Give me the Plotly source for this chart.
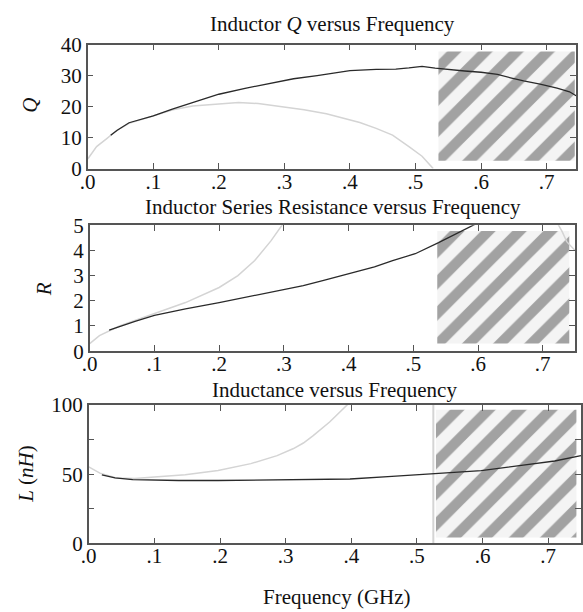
import plotly.graph_objects as go

# ---------------- data ----------------
# Panel 1: Q versus frequency (GHz)
q_meas_f = [0.035, 0.045, 0.063, 0.10, 0.129, 0.16, 0.20, 0.24, 0.28, 0.314, 0.35, 0.40, 0.44, 0.47, 0.49, 0.51, 0.53, 0.55, 0.575, 0.60, 0.625, 0.645, 0.665, 0.69, 0.716, 0.735, 0.745]
q_meas = [10.8, 12.4, 14.8, 17.0, 19.2, 21.3, 24.0, 25.9, 27.6, 29.0, 30.0, 31.6, 32.0, 32.1, 32.5, 33.0, 32.4, 31.9, 31.5, 31.1, 30.4, 29.3, 28.3, 27.3, 26.0, 24.8, 23.5]
q_model_f = [0.0, 0.0135, 0.029, 0.044, 0.063, 0.10, 0.13, 0.16, 0.20, 0.23, 0.26, 0.28, 0.314, 0.33, 0.364, 0.39, 0.415, 0.44, 0.465, 0.49, 0.51, 0.527]
q_model = [3.1, 7.1, 9.7, 12.3, 14.6, 17.0, 19.0, 20.2, 20.9, 21.3, 21.0, 20.4, 19.6, 19.0, 17.7, 16.4, 14.9, 13.0, 10.8, 7.1, 4.0, 0.0]

# Panel 2: series resistance R versus frequency
r_meas_f = [0.03, 0.05, 0.07, 0.10, 0.148, 0.20, 0.25, 0.30, 0.33, 0.36, 0.402, 0.44, 0.468, 0.503, 0.539, 0.57, 0.592, 0.60]
r_meas = [0.84, 1.02, 1.18, 1.42, 1.68, 1.93, 2.18, 2.44, 2.60, 2.80, 3.08, 3.35, 3.60, 3.87, 4.31, 4.72, 5.00, 5.10]
r_model_f = [0.0, 0.015, 0.046, 0.10, 0.148, 0.20, 0.229, 0.255, 0.28, 0.297, 0.305, None, 0.718, 0.73, 0.737, 0.75]
r_model = [0.30, 0.62, 1.00, 1.50, 1.93, 2.53, 3.00, 3.60, 4.38, 5.00, 5.30, None, 5.30, 4.75, 4.35, 4.00]

# Panel 3: inductance L (nH) versus frequency
l_meas_f = [0.02, 0.04, 0.067, 0.10, 0.137, 0.197, 0.252, 0.312, 0.35, 0.398, 0.462, 0.527, 0.598, 0.662, 0.71, 0.75]
l_meas = [49.5, 47.3, 46.1, 45.8, 45.4, 45.4, 45.6, 45.9, 46.2, 46.5, 48.4, 50.2, 52.5, 56.5, 59.5, 63.4]
l_model_f = [0.0, 0.017, 0.042, 0.07, 0.10, 0.147, 0.197, 0.247, 0.287, 0.312, 0.327, 0.342, 0.367, 0.392, 0.398]
l_model = [55.3, 50.7, 47.2, 46.8, 47.9, 49.5, 52.6, 57.6, 63.4, 68.5, 72.5, 77.8, 87.7, 99.3, 102.0]
l_limit_f = 0.525  # vertical marker in the inductance panel

# Hatched (invalid) regions: [f_start, f_end], [y_low, y_high]
hatch1_f, hatch1_y = [0.535, 0.743], [2.5, 37.8]
hatch2_f, hatch2_y = [0.537, 0.741], [0.3, 4.77]
hatch3_f, hatch3_y = [0.529, 0.743], [4.2, 96.5]

x_tickvals = [0.0, 0.1, 0.2, 0.3, 0.4, 0.5, 0.6, 0.7]
x_ticktext = [".0", ".1", ".2", ".3", ".4", ".5", ".6", ".7"]

titles = ["Inductor <i>Q</i> versus Frequency",
          "Inductor Series Resistance versus Frequency",
          "Inductance versus Frequency"]
ytitles = ["<i>Q</i>", "<i>R</i>", "<i>L</i> (<i>nH</i>)"]
xtitle = "Frequency (GHz)"

# ---------------- figure ----------------
W, H = 583, 612
FONT = "Liberation Serif"
DARK = "#2a2a2a"
LIGHT = "#d4d4d4"
AX = "#555555"
TXT = "#111111"

fig = go.Figure()

def hatch(xa, ya, fr, yr):
    fig.add_trace(go.Scatter(
        x=[fr[0], fr[1], fr[1], fr[0], fr[0]],
        y=[yr[0], yr[0], yr[1], yr[1], yr[0]],
        mode="lines", line=dict(width=0), fill="toself",
        fillcolor="#f3f3f3",
        fillpattern=dict(shape="/", size=22, solidity=0.47,
                         fgcolor="#a2a2a2", bgcolor="#f4f4f4", fgopacity=1),
        xaxis=xa, yaxis=ya, hoverinfo="skip", showlegend=False))

def line(xa, ya, xs, ys, color, width=1.5):
    fig.add_trace(go.Scatter(x=xs, y=ys, mode="lines",
                             line=dict(color=color, width=width),
                             xaxis=xa, yaxis=ya, showlegend=False,
                             connectgaps=False, cliponaxis=True))

# panel 1
hatch("x", "y", hatch1_f, hatch1_y)
line("x", "y", q_model_f, q_model, LIGHT)
line("x", "y", q_meas_f, q_meas, DARK, 1.3)
# panel 2
hatch("x2", "y2", hatch2_f, hatch2_y)
line("x2", "y2", r_model_f, r_model, LIGHT)
line("x2", "y2", r_meas_f, r_meas, DARK, 1.3)
# panel 3
hatch("x3", "y3", hatch3_f, hatch3_y)
line("x3", "y3", [l_limit_f, l_limit_f], [0, 100], LIGHT, 2)
line("x3", "y3", l_model_f, l_model, LIGHT)
line("x3", "y3", l_meas_f, l_meas, DARK, 1.3)

# pixel geometry -> paper domains
def dx(a, b):
    return [a / W, b / W]

def dy(top, bot):
    return [1 - bot / H, 1 - top / H]

panels = [
    dict(xd=dx(81, 577), yd=dy(34, 163), xr=[0, 0.745], yr=[0, 40],
         ytv=[0, 10, 20, 30, 40], ytt=["0", "10", "20", "30", "40"]),
    dict(xd=dx(83, 576), yd=dy(222, 353), xr=[0, 0.75], yr=[0, 5],
         ytv=[0, 1, 2, 3, 4, 5], ytt=["0", "1", "2", "3", "4", "5"]),
    dict(xd=dx(82, 582), yd=dy(409, 553), xr=[0, 0.75], yr=[0, 100],
         ytv=[0, 25, 50, 75, 100], ytt=["0", "", "50", "", "100"]),
]

tickfont = dict(family=FONT, size=21, color=TXT)
common = dict(showline=True, linecolor=AX, linewidth=1.5, mirror="ticks",
              ticks="inside", ticklen=6, tickcolor=AX, tickwidth=1.2,
              showgrid=False, zeroline=False, tickfont=tickfont)

layout = {}
for i, p in enumerate(panels):
    sfx = "" if i == 0 else str(i + 1)
    layout["xaxis" + sfx] = dict(domain=p["xd"], range=p["xr"], anchor="y" + sfx,
                                 tickvals=x_tickvals, ticktext=x_ticktext,
                                 ticklabelstandoff=-7, **common)
    layout["yaxis" + sfx] = dict(domain=p["yd"], range=p["yr"], anchor="x" + sfx,
                                 tickvals=p["ytv"], ticktext=p["ytt"], **common)

annotations = []
title_y = [27, 218, 408]
title_x = [330, 330, 332]
for t, ty, tx in zip(titles, title_y, title_x):
    annotations.append(dict(text=t, x=tx / W, y=1 - ty / H, xref="paper", yref="paper",
                            xanchor="center", yanchor="bottom", showarrow=False,
                            font=dict(family=FONT, size=21, color=TXT)))
ytitle_pos = [(23, 97), (36, 288), (18, 481)]
for t, (px, py) in zip(ytitles, ytitle_pos):
    annotations.append(dict(text=t, x=px / W, y=1 - py / H, xref="paper", yref="paper",
                            xanchor="center", yanchor="middle", textangle=-90, showarrow=False,
                            font=dict(family=FONT, size=21, color=TXT)))
annotations.append(dict(text=xtitle, x=334 / W, y=1 - 609 / H, xref="paper", yref="paper",
                        xanchor="center", yanchor="middle", showarrow=False,
                        font=dict(family=FONT, size=21, color=TXT)))

fig.update_layout(width=W, height=H, margin=dict(l=0, r=0, t=0, b=0),
                  paper_bgcolor="white", plot_bgcolor="white",
                  annotations=annotations, **layout)

fig.write_html("out.html")
